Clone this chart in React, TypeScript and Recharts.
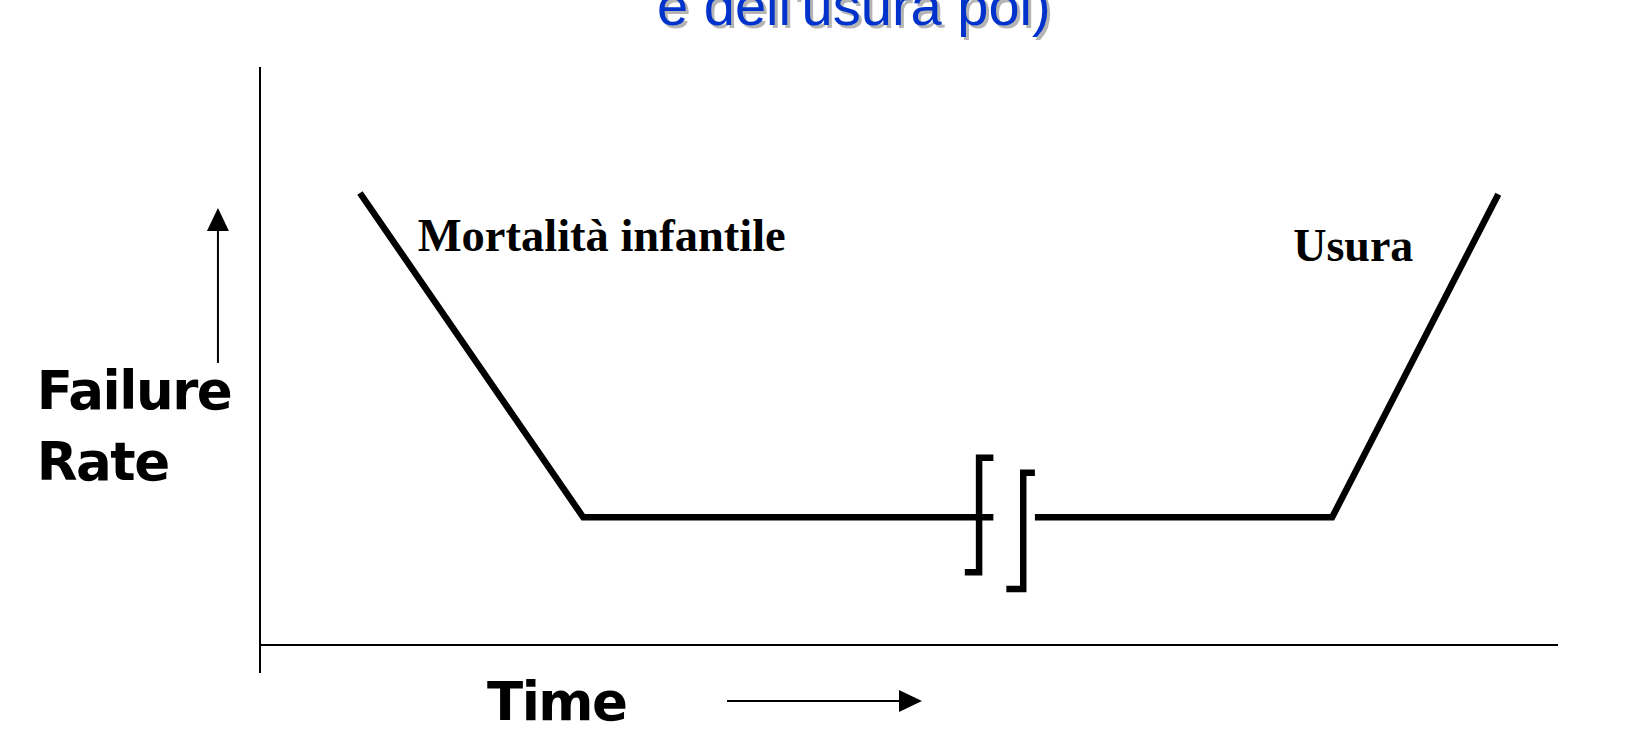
import React from 'react';
import { ComposedChart, Line, XAxis, YAxis, ReferenceLine, ReferenceDot } from 'recharts';

// Bathtub curve (time units 0-100, failure-rate units 0-100)
const curveTime = [7.7, 24.9, 56.5, 58.1, 59.7, 82.6, 95.4];
const curveRate: (number | null)[] = [78.2, 22.1, 22.1, null, 22.1, 22.1, 78.0];

// Axis-break marks
const break1Time = [54.3, 55.4, 55.4, 56.5];
const break1Rate = [12.6, 12.6, 32.4, 32.4];
const break2Time = [57.5, 58.8, 58.8, 59.7];
const break2Rate = [9.7, 9.7, 29.8, 29.8];

// Labels
const titleText = "e dell'usura poi)";
const phaseLabels = ['Mortalità infantile', 'Usura'];
const yAxisLabel = ['Failure', 'Rate'];
const xAxisLabel = 'Time';

const curveData = curveTime.map((t, i) => ({ t, rate: curveRate[i] }));
const break1Data = break1Time.map((t, i) => ({ t, rate: break1Rate[i] }));
const break2Data = break2Time.map((t, i) => ({ t, rate: break2Rate[i] }));

const W = 1641;
const H = 752;
const SW = 6.5;

const Arrow = (props: any) => {
  const { x1, y1, x2, y2 } = props;
  const dx = x2 - x1;
  const dy = y2 - y1;
  const len = Math.sqrt(dx * dx + dy * dy) || 1;
  const ux = dx / len;
  const uy = dy / len;
  const headL = 23;
  const headW = 11;
  const bx = x2 - ux * headL;
  const by = y2 - uy * headL;
  const px = -uy;
  const py = ux;
  return (
    <g>
      <line x1={x1} y1={y1} x2={bx} y2={by} stroke="#000" strokeWidth={2} />
      <polygon
        points={`${x2},${y2} ${bx + px * headW},${by + py * headW} ${bx - px * headW},${by - py * headW}`}
        fill="#000"
      />
    </g>
  );
};

const textShape = (content: React.ReactNode, style: any) => (p: any) => (
  <text x={p.cx} y={p.cy} {...style}>
    {content}
  </text>
);

export default function App() {
  return (
    <div style={{ position: 'absolute', left: 0, top: 0, width: W, height: H, background: '#fff' }}>
      <ComposedChart
        width={W}
        height={H}
        margin={{ top: 67, right: 83, bottom: 107, left: 260 }}
        style={{ overflow: 'visible' }}
      >
        <XAxis type="number" dataKey="t" domain={[0, 100]} hide height={0} allowDataOverflow />
        <YAxis type="number" domain={[0, 100]} hide width={0} allowDataOverflow />

        {/* axes */}
        <ReferenceLine
          segment={[{ x: 0, y: -4.84 }, { x: 0, y: 100 }]}
          stroke="#000"
          strokeWidth={2}
          ifOverflow="visible"
        />
        <ReferenceLine
          segment={[{ x: 0, y: 0 }, { x: 100, y: 0 }]}
          stroke="#000"
          strokeWidth={2}
          ifOverflow="visible"
        />

        {/* direction arrows */}
        <ReferenceLine
          segment={[{ x: -3.24, y: 48.8 }, { x: -3.24, y: 75.6 }]}
          ifOverflow="visible"
          shape={Arrow}
        />
        <ReferenceLine
          segment={[{ x: 35.98, y: -9.69 }, { x: 51.0, y: -9.69 }]}
          ifOverflow="visible"
          shape={Arrow}
        />

        <Line
          data={curveData}
          dataKey="rate"
          type="linear"
          stroke="#000"
          strokeWidth={SW}
          dot={false}
          connectNulls={false}
          isAnimationActive={false}
          strokeLinejoin="miter"
        />
        <Line
          data={break1Data}
          dataKey="rate"
          type="linear"
          stroke="#000"
          strokeWidth={SW}
          dot={false}
          isAnimationActive={false}
          strokeLinejoin="miter"
        />
        <Line
          data={break2Data}
          dataKey="rate"
          type="linear"
          stroke="#000"
          strokeWidth={SW}
          dot={false}
          isAnimationActive={false}
          strokeLinejoin="miter"
        />

        {/* title (partially cut at the top) */}
        <ReferenceDot
          x={30.82}
          y={106.75}
          r={0}
          ifOverflow="visible"
          shape={textShape(titleText, {
            fontFamily: '"Liberation Sans", Arial, sans-serif',
            fontSize: 56,
            fill: '#b4b4b4',
          })}
        />
        <ReferenceDot
          x={30.59}
          y={107.27}
          r={0}
          ifOverflow="visible"
          shape={textShape(titleText, {
            fontFamily: '"Liberation Sans", Arial, sans-serif',
            fontSize: 56,
            fill: '#0033cc',
          })}
        />

        {/* phase labels */}
        <ReferenceDot
          x={12.15}
          y={68.17}
          r={0}
          ifOverflow="visible"
          shape={textShape(phaseLabels[0], {
            fontFamily: '"Liberation Serif", "Times New Roman", serif',
            fontWeight: 'bold',
            fontSize: 46.5,
            fill: '#000',
          })}
        />
        <ReferenceDot
          x={79.6}
          y={66.44}
          r={0}
          ifOverflow="visible"
          shape={textShape(phaseLabels[1], {
            fontFamily: '"Liberation Serif", "Times New Roman", serif',
            fontWeight: 'bold',
            fontSize: 46,
            fill: '#000',
          })}
        />

        {/* axis labels */}
        <ReferenceDot
          x={-17.2}
          y={40.83}
          r={0}
          ifOverflow="visible"
          shape={(p: any) => (
            <text
              x={p.cx}
              y={p.cy}
              fontFamily='"DejaVu Sans", Verdana, sans-serif'
              fontWeight="bold"
              fontSize={53}
              letterSpacing={-1.5}
              fill="#000"
            >
              <tspan x={p.cx}>{yAxisLabel[0]}</tspan>
              <tspan x={p.cx} dy={71}>
                {yAxisLabel[1]}
              </tspan>
            </text>
          )}
        />
        <ReferenceDot
          x={17.49}
          y={-12.98}
          r={0}
          ifOverflow="visible"
          shape={textShape(xAxisLabel, {
            fontFamily: '"DejaVu Sans", Verdana, sans-serif',
            fontWeight: 'bold',
            fontSize: 53,
            letterSpacing: -1.5,
            fill: '#000',
          })}
        />
      </ComposedChart>
    </div>
  );
}
